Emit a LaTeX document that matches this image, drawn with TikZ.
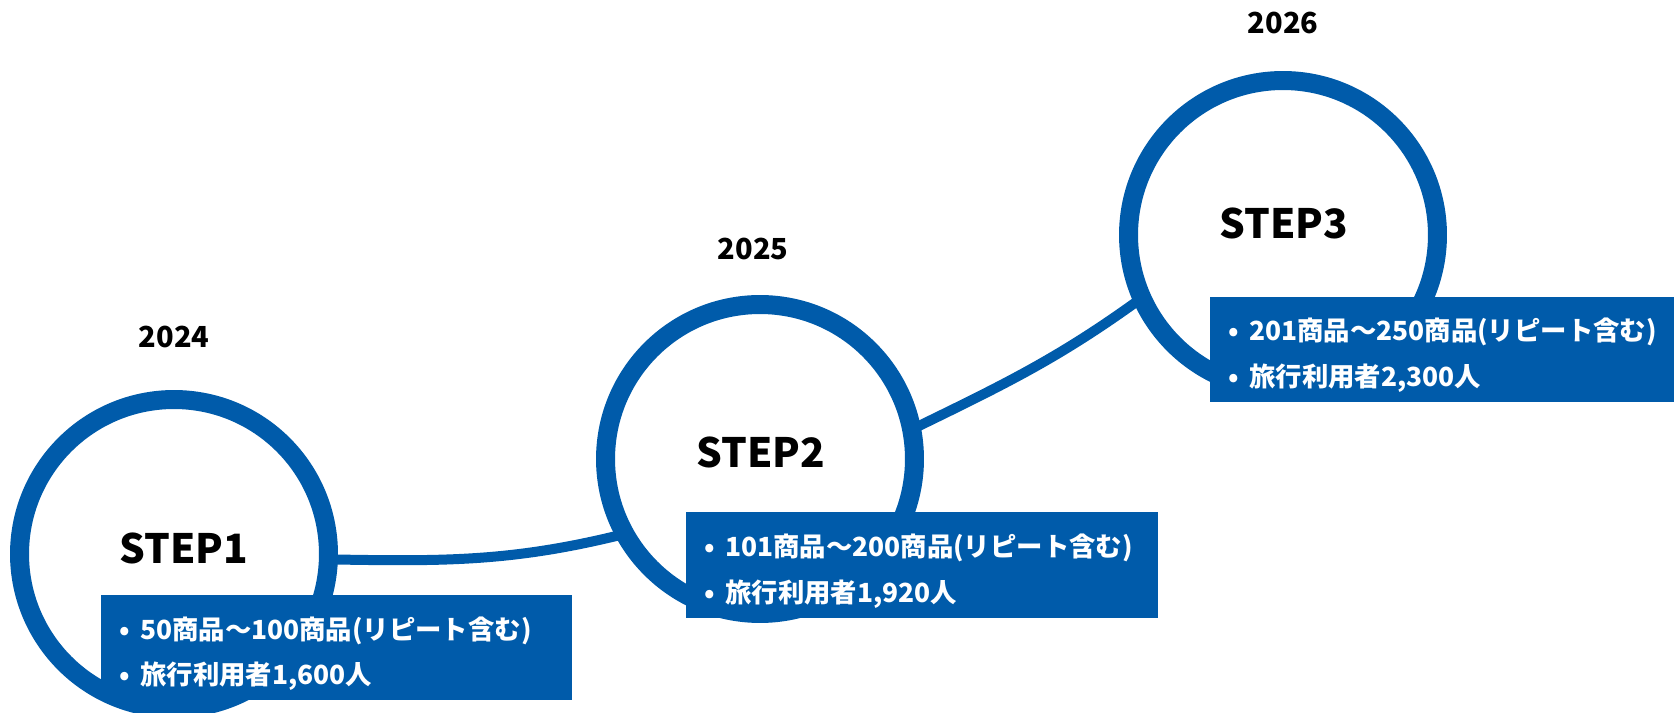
\documentclass[tikz,border=0pt]{standalone}
\usepackage{fontspec}
\setmainfont{Noto Sans CJK JP}
\definecolor{stepblue}{RGB}{0,91,170}
\newcommand{\bitem}[1]{\makebox[0.42cm][l]{•}#1}
\begin{document}
\begin{tikzpicture}[x=0.02cm, y=0.02cm]

\tikzset{stepcircle/.style={circle, draw=stepblue, line width=0.38cm, minimum size=6.18cm, outer sep=0pt}}
\tikzset{steplink/.style={draw=stepblue, line width=0.2cm}}
\tikzset{infobox/.style={rectangle, fill=stepblue, text=white, anchor=north west, inner xsep=0.36cm, inner ysep=0pt, align=left, font=\fontsize{15}{26}\selectfont\bfseries}}
\tikzset{yearlabel/.style={font=\fontsize{16.5}{20}\selectfont\bfseries}}
\tikzset{steplabel/.style={font=\fontsize{23}{26}\selectfont\bfseries}}

\useasboundingbox (0,0) rectangle (1674,713);

% rings
\node[stepcircle] at ( 174, 159) (s1) {};
\node[stepcircle] at ( 760, 254) (s2) {};
\node[stepcircle] at (1283, 478) (s3) {};

% links between rings
\draw[steplink] (s1.-2) to[out=-1, in=194] (s2.209);
\draw[steplink] (s2.11) to[out=26, in=216] (s3.204.6);

% years and step names
\node[yearlabel] at ( 174, 376) (y1) {2024};
\node[yearlabel] at ( 753, 464) (y2) {2025};
\node[yearlabel] at (1283, 690) (y3) {2026};
\node[steplabel] at ( 184, 165) (t1) {STEP1};
\node[steplabel] at ( 761, 261) (t2) {STEP2};
\node[steplabel] at (1284, 490) (t3) {STEP3};

% targets
\node[infobox, text width=8.70cm, minimum height=2.1cm] at ( 101, 118) (b1)
  {\rule{0pt}{0.68cm}\bitem{50商品～100商品(リピート含む)}\\\bitem{旅行利用者1,600人}};
\node[infobox, text width=8.72cm, minimum height=2.12cm] at ( 686, 201) (b2)
  {\rule{0pt}{0.68cm}\bitem{101商品～200商品(リピート含む)}\\\bitem{旅行利用者1,920人}};
\node[infobox, text width=8.56cm, minimum height=2.1cm] at (1210, 416) (b3)
  {\rule{0pt}{0.68cm}\bitem{201商品～250商品(リピート含む)}\\\bitem{旅行利用者2,300人}};

\end{tikzpicture}
\end{document}
